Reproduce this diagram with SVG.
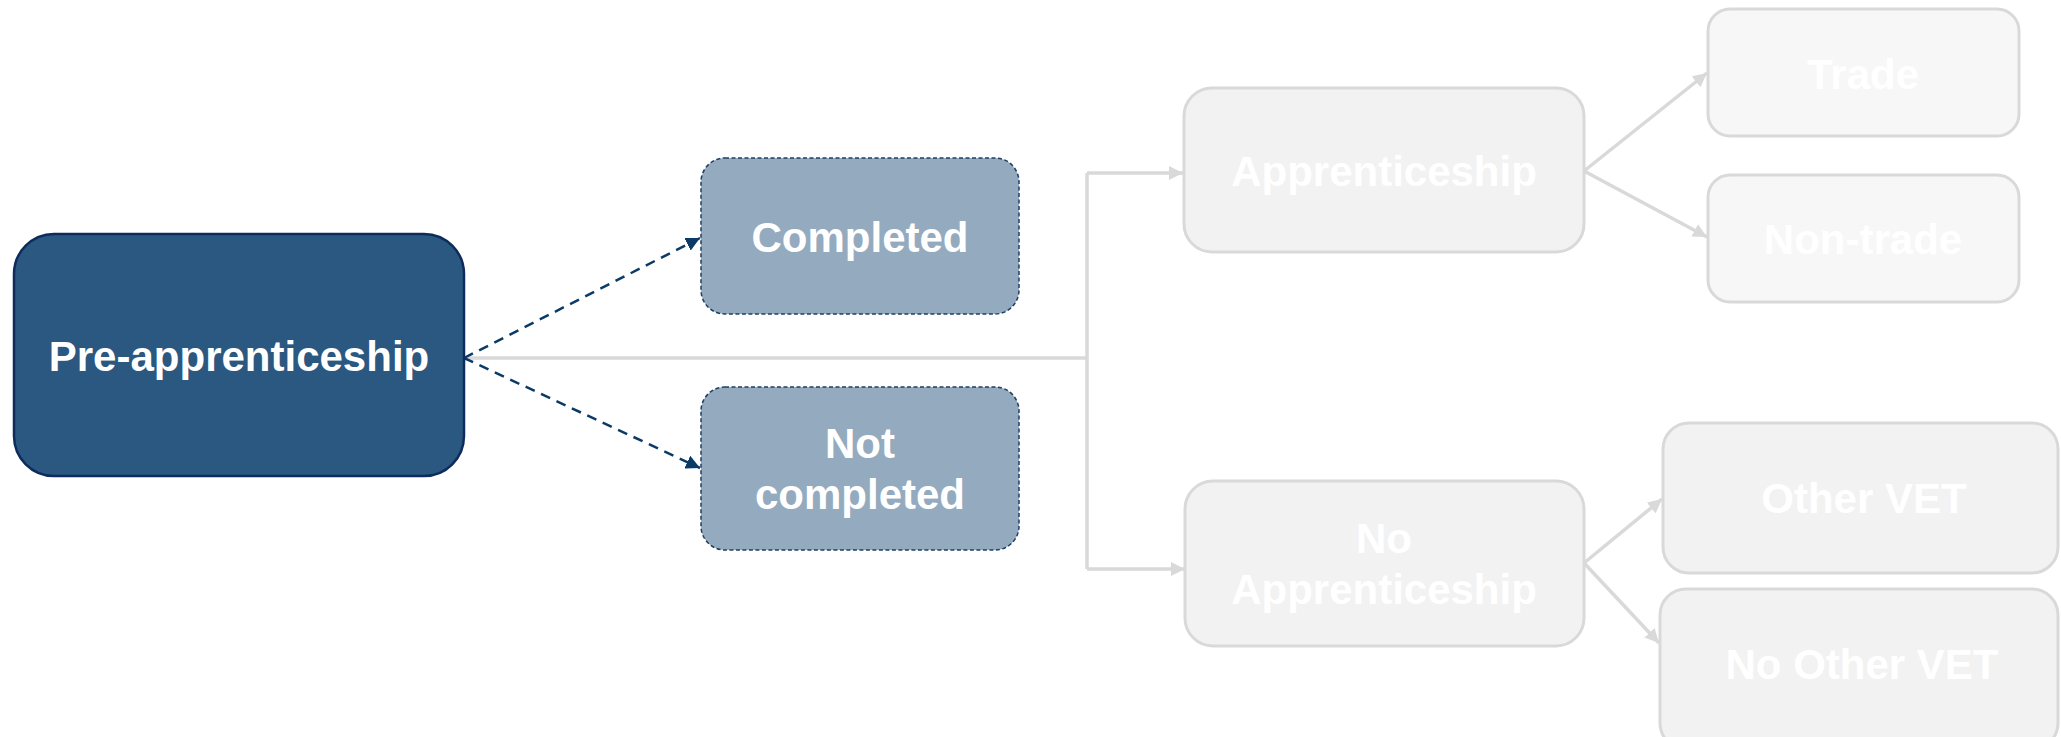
<svg xmlns="http://www.w3.org/2000/svg" width="2061" height="737" viewBox="0 0 2061 737">
  <defs>
    <style>
      .lbl { font-family: "Liberation Sans", Arial, sans-serif; font-weight: bold; font-size: 42px; fill: #FFFFFF; text-anchor: middle; }
      .main { fill: #2B5880; stroke: #0D2C5C; stroke-width: 2.5; }
      .done { fill: #94AABF; stroke: #1E3F63; stroke-width: 1.5; stroke-dasharray: 4 2.5; }
      .light { fill: #F2F2F2; stroke: #D9D9D9; stroke-width: 3; }
      .lighter { fill: #F7F7F7; stroke: #D9D9D9; stroke-width: 3; }
      .dash { fill: none; stroke: #0B3A66; stroke-width: 2.5; stroke-dasharray: 10 7; }
      .grey { fill: none; stroke: #D9D9D9; stroke-width: 3.5; }
    </style>
    <marker id="navyHead" viewBox="0 0 10 10" refX="10" refY="5" markerWidth="14" markerHeight="14" markerUnits="userSpaceOnUse" orient="auto">
      <path d="M0,0 L10,5 L0,10 z" fill="#0B3A66"/>
    </marker>
    <marker id="greyHead" viewBox="0 0 10 10" refX="10" refY="5" markerWidth="14" markerHeight="14" markerUnits="userSpaceOnUse" orient="auto">
      <path d="M0,0 L10,5 L0,10 z" fill="#D9D9D9"/>
    </marker>
  </defs>

  <!-- connectors -->
  <g id="connectors">
    <path class="grey" d="M464,358 H1087"/>
    <path class="grey" d="M1087,173 V569"/>
    <path class="grey" d="M1087,173 H1183" marker-end="url(#greyHead)"/>
    <path class="grey" d="M1087,569 H1185" marker-end="url(#greyHead)"/>
    <path class="grey" d="M1584,171 L1707,73" marker-end="url(#greyHead)"/>
    <path class="grey" d="M1584,171 L1707,237" marker-end="url(#greyHead)"/>
    <path class="grey" d="M1584,563 L1662,499" marker-end="url(#greyHead)"/>
    <path class="grey" d="M1584,563 L1659,643" marker-end="url(#greyHead)"/>
    <path class="dash" d="M464,358 L700,238" marker-end="url(#navyHead)"/>
    <path class="dash" d="M464,358 L700,468" marker-end="url(#navyHead)"/>
  </g>

  <g id="pre-apprenticeship">
    <rect class="main" x="14" y="234" width="450" height="242" rx="40"/>
    <text class="lbl" x="239" y="371">Pre-apprenticeship</text>
  </g>

  <g id="completed">
    <rect class="done" x="701" y="158" width="318" height="156" rx="24"/>
    <text class="lbl" x="860" y="252">Completed</text>
  </g>

  <g id="not-completed">
    <rect class="done" x="701" y="387" width="318" height="163" rx="24"/>
    <text class="lbl" x="860" y="458">Not</text>
    <text class="lbl" x="860" y="509">completed</text>
  </g>

  <g id="apprenticeship">
    <rect class="light" x="1184" y="88" width="400" height="164" rx="28"/>
    <text class="lbl" x="1384" y="186">Apprenticeship</text>
  </g>

  <g id="no-apprenticeship">
    <rect class="light" x="1185" y="481" width="399" height="165" rx="28"/>
    <text class="lbl" x="1384" y="553">No</text>
    <text class="lbl" x="1384" y="604">Apprenticeship</text>
  </g>

  <g id="trade">
    <rect class="lighter" x="1708" y="9" width="311" height="127" rx="22"/>
    <text class="lbl" x="1863" y="89">Trade</text>
  </g>

  <g id="non-trade">
    <rect class="lighter" x="1708" y="175" width="311" height="127" rx="22"/>
    <text class="lbl" x="1863" y="254">Non-trade</text>
  </g>

  <g id="other-vet">
    <rect class="light" x="1663" y="423" width="395" height="150" rx="26"/>
    <text class="lbl" x="1864" y="513">Other VET</text>
  </g>

  <g id="no-other-vet">
    <rect class="light" x="1660" y="589" width="398" height="160" rx="26"/>
    <text class="lbl" x="1862" y="679">No Other VET</text>
  </g>
</svg>
